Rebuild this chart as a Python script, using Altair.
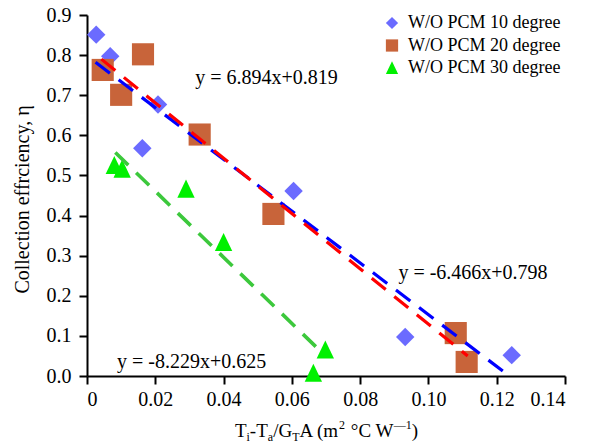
import altair as alt
import pandas as pd

# ---------------- data ----------------
series = ["W/O PCM 10 degree", "W/O PCM 20 degree", "W/O PCM 30 degree"]

x10 = [0.0027, 0.0068, 0.0162, 0.0208, 0.0605, 0.0932, 0.1244]
y10 = [0.851, 0.797, 0.568, 0.677, 0.461, 0.097, 0.052]

x20 = [0.0046, 0.0100, 0.0164, 0.0330, 0.0546, 0.1080, 0.1112]
y20 = [0.763, 0.701, 0.802, 0.602, 0.404, 0.107, 0.035]

x30 = [0.0080, 0.0103, 0.0290, 0.0400, 0.0663, 0.0698]
y30 = [0.525, 0.516, 0.466, 0.333, 0.007, 0.065]

# fitted (dashed) lines: endpoints
fit_names = ["fit10", "fit20", "fit30"]
fit_x = [[0.0025, 0.1237], [0.0042, 0.1115], [0.0083, 0.0690]]
fit_y = [[0.782, 0.0], [0.790, 0.050], [0.557, 0.057]]
fit_colors = ["#0000FF", "#FF0000", "#3CC83C"]

eq_text = ["y = 6.894x+0.819", "y = -6.466x+0.798", "y = -8.229x+0.625"]
eq_x = [0.0317, 0.0912, 0.0088]
eq_y = [0.742, 0.256, 0.036]

point_colors = ["#6B6BFF", "#C8643A", "#00F000"]
point_shapes = ["diamond", "square", "M0,-1.1L1,1L-1,1Z"]
point_sizes = [340, 490, 300]

x_ticks = [0, 0.02, 0.04, 0.06, 0.08, 0.10, 0.12, 0.14]
y_ticks = [0.0, 0.1, 0.2, 0.3, 0.4, 0.5, 0.6, 0.7, 0.8, 0.9]

FONT = "Liberation Serif"
TOP = 7
W, H = 478, 376 - 8 - TOP

xscale = alt.Scale(domain=[0, 0.14], nice=False, zero=False)
yscale = alt.Scale(domain=[0, 0.9], nice=False, zero=False)
cscale = alt.Scale(domain=series, range=point_colors)
sscale = alt.Scale(domain=series, range=point_shapes)

xaxis = alt.Axis(values=x_ticks, title=None, labelFont=FONT, labelFontSize=20, labelPadding=5,
                 labelExpr="datum.value == 0 ? '0' : format(datum.value, '.2f')")
yaxis = alt.Axis(values=y_ticks, format=".1f", labelFont=FONT, labelFontSize=20, labelPadding=8,
                 title="Collection effrciency, η", titleFont=FONT, titleFontSize=20,
                 titleX=-65, titleY=376 - 8 - TOP - 190 + 13, titleAngle=-90,
                 titleAlign="center", titleBaseline="middle")
legend = alt.Legend(title=None, orient="none", legendX=296, legendY=14 - 8 - TOP,
                    symbolSize=150, labelFontSize=18, labelFont=FONT,
                    rowPadding=4.5, labelOffset=7, padding=0, symbolStrokeWidth=0)

point_layers = []
for i, (s, xs, ys) in enumerate(zip(series, [x10, x20, x30], [y10, y20, y30])):
    df = pd.DataFrame({"series": [s] * len(xs), "x": xs, "y": ys})
    point_layers.append(
        alt.Chart(df).mark_point(filled=True, opacity=1, strokeWidth=0,
                                 size=point_sizes[i]).encode(
            x=alt.X("x:Q", scale=xscale, axis=xaxis if i == 0 else alt.Undefined),
            y=alt.Y("y:Q", scale=yscale, axis=yaxis if i == 0 else alt.Undefined),
            color=alt.Color("series:N", scale=cscale, legend=legend),
            shape=alt.Shape("series:N", scale=sscale, legend=legend),
        )
    )

line_layers = []
for name, xs, ys, col in zip(fit_names, fit_x, fit_y, fit_colors):
    df = pd.DataFrame({"x": xs, "y": ys, "fit": [name] * 2})
    line_layers.append(
        alt.Chart(df).mark_line(color=col, strokeWidth=3.2 if name != "fit30" else 3.6,
                                strokeDash=[18, 11], strokeCap="butt").encode(
            x=alt.X("x:Q", scale=xscale), y=alt.Y("y:Q", scale=yscale))
    )

eqs = alt.Chart(pd.DataFrame({"t": eq_text, "x": eq_x, "y": eq_y})).mark_text(
    align="left", baseline="middle", font=FONT, fontSize=20, color="black").encode(
    x=alt.X("x:Q", scale=xscale), y=alt.Y("y:Q", scale=yscale), text="t:N")

# x-axis title with sub/superscripts, built from pieces
WID = {'T': 611, 'i': 278, '-': 333, 'a': 444, '/': 278, 'G': 722, 'A': 722, ' ': 250,
       '(': 333, 'm': 778, '2': 500, '°': 400, 'C': 667, 'W': 944, ')': 333, '1': 500,
       '—': 1000}
pieces = [("T", 0), ("i", -1), ("-T", 0), ("a", -1), ("/G", 0), ("T", -1), ("A (m", 0),
          ("2", 1), (" °C W", 0), ("—1", 1), (")", 0)]
FM, FS = 19, 12
widths = [sum(WID[c] for c in t) / 1000 * (FM if k == 0 else FS) for t, k in pieces]
cx = 326 - 87
start = cx - sum(widths) / 2
base = 437 - 8 - TOP
tx, ty, tsz, tt = [], [], [], []
cur = start
for (t, k), w in zip(pieces, widths):
    if t.startswith(" "):
        # draw the space as a gap
        cur += WID[' '] / 1000 * FM + 1
        w -= WID[' '] / 1000 * FM
        t = t[1:]
    tx.append(cur)
    ty.append(base + (4 if k == -1 else (-8 if k == 1 else 0)))
    tsz.append(FM if k == 0 else FS)
    tt.append(t)
    cur += w
xtitle = alt.Chart(pd.DataFrame({"t": tt, "px": tx, "py": ty, "fs": tsz})).mark_text(
    align="left", baseline="alphabetic", font=FONT, color="black").encode(
    x=alt.X("px:Q", scale=None, axis=None), y=alt.Y("py:Q", scale=None, axis=None),
    size=alt.Size("fs:Q", scale=None, legend=None), text="t:N")

main = alt.layer(*point_layers, *line_layers, eqs)
chart = alt.layer(main, xtitle).resolve_scale(x="independent", y="independent").properties(
    width=W, height=H,
    autosize=alt.AutoSizeParams(type="none"),
    padding={"left": 79, "top": TOP, "right": 10, "bottom": 68},
).configure(font=FONT).configure_view(stroke=None).configure_axis(
    grid=False, domainColor="black", domainWidth=2, tickColor="black", tickWidth=2,
    tickSize=8, labelFont=FONT, labelFontSize=20, labelColor="black",
    titleFont=FONT, titleFontSize=20, titleFontWeight="normal", titleColor="black",
).configure_legend(labelFont=FONT, labelColor="black")

chart.save("out.html", embed_options={"renderer": "svg", "actions": False})
